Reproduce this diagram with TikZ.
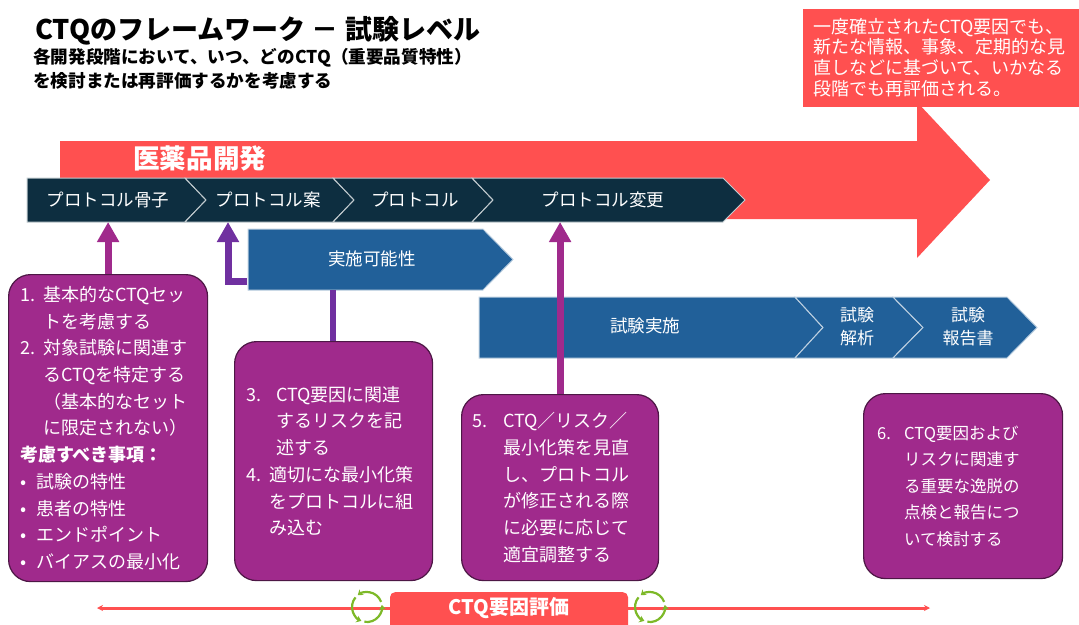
\documentclass[tikz,border=0pt]{standalone}
\usepackage{fontspec}
\setmainfont{Noto Sans CJK JP}
\usetikzlibrary{arrows.meta}
\definecolor{cred}{HTML}{FF5050}
\definecolor{cnavy}{HTML}{0D2E40}
\definecolor{cblue}{HTML}{216099}
\definecolor{cpurp}{HTML}{A02A8C}
\definecolor{cpurpd}{HTML}{4D1745}
\definecolor{cviol}{HTML}{7030A0}
\definecolor{cgreen}{HTML}{7DB928}
\begin{document}
\begin{tikzpicture}[x=1pt,y=-1pt,
  navyshape/.style={fill=cnavy, draw=white!75!cnavy, line width=1pt},
  blueshape/.style={fill=cblue, draw=white!70!cblue, line width=1pt},
  chevtext/.style={text=white, font=\fontsize{17.5}{21}\selectfont, inner sep=0pt},
  bartext/.style={text=white, font=\fontsize{17}{23}\selectfont, inner sep=0pt, align=center},
  pbox/.style={fill=cpurp, draw=cpurpd, line width=1.2pt, rounded corners=22pt, anchor=north west, inner sep=0pt},
  ptext/.style={text=white, font=\fontsize{18}{26.7}\selectfont, align=left, anchor=west, inner sep=0pt},
  uparr/.style={draw=cpurp, line width=7pt, -{Triangle[width=21pt,length=20pt]}},
  violarr/.style={draw=cviol, line width=7pt, line join=miter, -{Triangle[width=21pt,length=20pt]}},
  violline/.style={draw=cviol, line width=6.5pt},
  redline/.style={draw=cred, line width=3pt, -{Stealth[length=6pt,width=6pt]}},
  cyc/.style={draw=cgreen, line width=2.2pt, -{Stealth[length=5pt,width=7pt]}}
]
\useasboundingbox (0,0) rectangle (1079,624);

% title
\node[anchor=west, inner sep=0pt, font=\bfseries\fontsize{27}{30}\selectfont] (title) at (35,31) {CTQのフレームワーク － 試験レベル};
\node[anchor=west, inner sep=0pt, align=left, font=\bfseries\fontsize{17.6}{24.5}\selectfont] (sub) at (33,68.75) {各開発段階において、いつ、どのCTQ（重要品質特性）\\を検討または再評価するかを考慮する};

% big red arrow
\fill[cred] (60,141) -- (917,141) -- (917,102) -- (990,180) -- (917,258) -- (917,219) -- (60,219) -- cycle;
\node[anchor=west, inner sep=0pt, text=white, font=\bfseries\fontsize{26.6}{30}\selectfont] (dev) at (133,158) {医薬品開発};

% protocol chevrons
\path[navyshape] (27,178) -- (185,178) -- (206,200) -- (185,222) -- (27,222) -- cycle;
\path[navyshape] (185,178) -- (333,178) -- (354,200) -- (333,222) -- (185,222) -- (206,200) -- cycle;
\path[navyshape] (333,178) -- (472,178) -- (493,200) -- (472,222) -- (333,222) -- (354,200) -- cycle;
\path[navyshape] (472,178) -- (723,178) -- (745,200) -- (723,222) -- (472,222) -- (493,200) -- cycle;
\node[chevtext] (p1) at (108,200) {プロトコル骨子};
\node[chevtext] (p2) at (268,200) {プロトコル案};
\node[chevtext] (p3) at (415,200) {プロトコル};
\node[chevtext] (p4) at (603,200) {プロトコル変更};
\coordinate (c1b) at (107,222);
\coordinate (c2b) at (228,222);
\coordinate (c4b) at (559,222);

% callout
\node[fill=cred, minimum width=277pt, minimum height=98pt, anchor=north west, inner sep=0pt] (callout) at (803,9) {};
\node[anchor=west, inner sep=0pt, align=left, text=white, font=\fontsize{18}{20.7}\selectfont] (callt) at (813,57.5) {一度確立されたCTQ要因でも、\\新たな情報、事象、定期的な見\\直しなどに基づいて、いかなる\\段階でも再評価される。};

% feasibility arrow
\path[blueshape] (248,229) -- (483,229) -- (513,259.5) -- (483,290) -- (248,290) -- cycle;
\node[chevtext] (jk) at (372,259) {実施可能性};
\coordinate (jkb) at (333,290);
\coordinate (jkl) at (247,281);

% conduct bar
\path[blueshape] (479,297) -- (795,297) -- (823,327.5) -- (795,358) -- (479,358) -- cycle;
\path[blueshape] (795,297) -- (893,297) -- (923,327.5) -- (893,358) -- (795,358) -- (823,327.5) -- cycle;
\path[blueshape] (893,297) -- (1007,297) -- (1037,327.5) -- (1007,358) -- (893,358) -- (923,327.5) -- cycle;
\node[chevtext] (sj) at (645,326) {試験実施};
\node[bartext] (kaiseki) at (857,326.5) {試験\\解析};
\node[bartext] (hokoku) at (968,326.5) {試験\\報告書};

% purple boxes
\node[pbox, minimum width=199pt, minimum height=307pt] (box1) at (8,274) {};
\node[pbox, minimum width=198pt, minimum height=239pt] (box3) at (234,341) {};
\node[pbox, minimum width=197pt, minimum height=186pt] (box5) at (461,394) {};
\node[pbox, minimum width=199pt, minimum height=185pt] (box6) at (863,393) {};

\node[ptext] (t1) at ([xshift=12pt]box1.west) {\makebox[23pt][l]{1.}基本的なCTQセッ\\\hspace*{23pt}トを考慮する\\\makebox[23pt][l]{2.}対象試験に関連す\\\hspace*{23pt}るCTQを特定する\\\hspace*{23pt}（基本的なセット\\\hspace*{23pt}に限定されない）\\{\bfseries 考慮すべき事項：}\\\makebox[16pt][l]{•}試験の特性\\\makebox[16pt][l]{•}患者の特性\\\makebox[16pt][l]{•}エンドポイント\\\makebox[16pt][l]{•}バイアスの最小化};

\node[ptext] (t3) at ([xshift=12pt]box3.west) {\makebox[30pt][l]{3.}CTQ要因に関連\\\hspace*{30pt}するリスクを記\\\hspace*{30pt}述する\\\makebox[23pt][l]{4.}適切にな最小化策\\\hspace*{23pt}をプロトコルに組\\\hspace*{23pt}み込む};

\node[ptext] (t5) at ([xshift=11pt]box5.west) {\makebox[31pt][l]{5.}CTQ／リスク／\\\hspace*{31pt}最小化策を見直\\\hspace*{31pt}し、プロトコル\\\hspace*{31pt}が修正される際\\\hspace*{31pt}に必要に応じて\\\hspace*{31pt}適宜調整する};

\node[ptext, font=\fontsize{16.5}{26.5}\selectfont] (t6) at ([xshift=14pt]box6.west) {\makebox[27pt][l]{6.}CTQ要因および\\\hspace*{27pt}リスクに関連す\\\hspace*{27pt}る重要な逸脱の\\\hspace*{27pt}点検と報告につ\\\hspace*{27pt}いて検討する};

% connectors
\draw[uparr] (box1.north) -- (box1.north |- c1b);
\draw[violarr] (jkl) -| (c2b);
\draw[violline] (jkb) -- (box3.north -| jkb);
\draw[uparr] (box5.north) -- (box5.north |- c4b);

% bottom evaluation line
\coordinate (lend) at (97,608);
\coordinate (rend) at (930,608);
\node[fill=cred, rounded corners=5pt, minimum width=238pt, minimum height=40pt, anchor=north, inner sep=0pt] (ctq) at (509,592) {};
\draw[redline] (ctq.west |- lend) -- (lend);
\draw[redline] (ctq.east |- rend) -- (rend);
\node[text=white, font=\bfseries\fontsize{20}{24}\selectfont, inner sep=0pt] (ctqt) at (509,608) {CTQ要因評価};
\coordinate (cy1) at (367,607);
\coordinate (cy2) at (650,607);
\foreach \c in {cy1,cy2}{
  \foreach \a in {100,220,340}{
    \draw[cyc] ([shift={(\a:15)}]\c) arc[start angle=\a, end angle=\a-108, radius=15];
  }
}
\end{tikzpicture}
\end{document}
